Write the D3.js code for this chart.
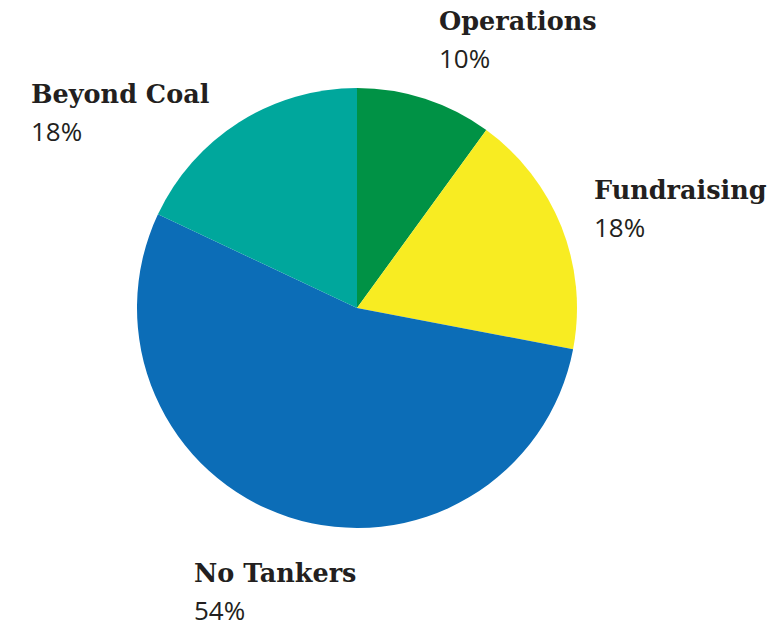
<!DOCTYPE html>
<html>
<head>
<meta charset="utf-8">
<script src="https://cdn.jsdelivr.net/npm/d3@7"></script>
<style>
  body { margin: 0; background: #fff; }
</style>
</head>
<body>
<div id="chart"></div>
<script>
const categories = ['Operations', 'Fundraising', 'No Tankers', 'Beyond Coal'];
const values = [10, 18, 54, 18];
const colors = ['#009245', '#f8ec22', '#0c6db7', '#00a79c'];
// label anchor positions (left edge, baseline of name line)
const labelPos = [[439, 30], [594, 199], [194, 582], [31, 103]];

const width = 772, height = 628;
const cx = 357, cy = 308, radius = 220;

const svg = d3.select('#chart')
    .append('svg')
    .attr('width', width)
    .attr('height', height);

const pie = d3.pie().sort(null).value(d => d.value);
const arc = d3.arc().innerRadius(0).outerRadius(radius);

const data = categories.map((c, i) => ({name: c, value: values[i], color: colors[i]}));

const g = svg.append('g')
    .attr('transform', 'translate(' + cx + ',' + cy + ')');

g.selectAll('path')
    .data(pie(data))
    .enter()
    .append('path')
    .attr('d', arc)
    .attr('fill', d => d.data.color);

const labels = svg.selectAll('g.label')
    .data(data)
    .enter()
    .append('g')
    .attr('class', 'label')
    .attr('transform', (d, i) => 'translate(' + labelPos[i][0] + ',' + labelPos[i][1] + ')');

labels.append('text')
    .attr('font-family', 'DejaVu Serif')
    .attr('font-weight', 'bold')
    .attr('font-size', '25.5px')
    .attr('fill', '#231f20')
    .text(d => d.name);

labels.append('text')
    .attr('y', 38)
    .attr('font-family', 'Open Sans')
    .attr('font-size', '26px')
    .attr('fill', '#231f20')
    .text(d => d.value + '%');
</script>
</body>
</html>
